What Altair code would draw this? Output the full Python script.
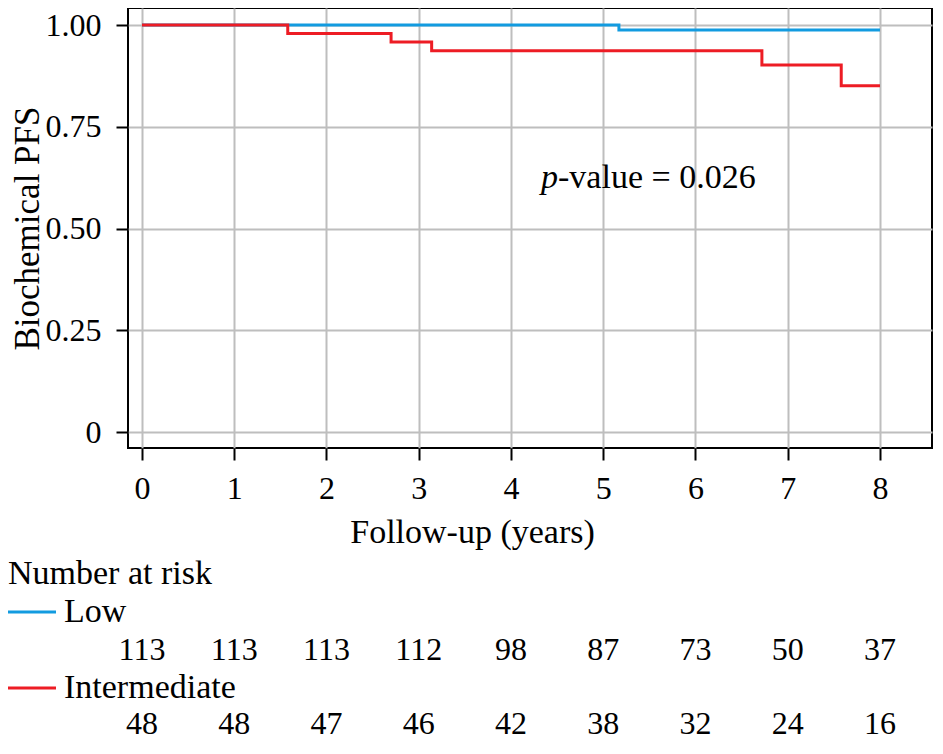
import altair as alt
import pandas as pd

# ---- data ----
groups = ["Low", "Intermediate"]
colors = ["#129be0", "#ed1c24"]

low_time = [0, 5.17, 8]
low_surv = [1.0, 0.988, 0.988]
int_time = [0, 1.58, 2.70, 3.14, 6.72, 7.58, 8]
int_surv = [1.0, 0.979, 0.958, 0.937, 0.902, 0.851, 0.851]

years = [0, 1, 2, 3, 4, 5, 6, 7, 8]
risk_low = [113, 113, 113, 112, 98, 87, 73, 50, 37]
risk_int = [48, 48, 47, 46, 42, 38, 32, 24, 16]

y_ticks = [0, 0.25, 0.5, 0.75, 1.0]
p_text = "-value = 0.026"
p_pos = (4.51, 0.6235)

FONT = "Liberation Serif"
W, H = 804, 440
SVG_H = 732
PAD_L, PAD_R, PAD_B = 120, 2, SVG_H - H
# row positions of the risk table (pixels below plot top)
ROWS = [566, 604, 642, 680, 716]

curves = pd.DataFrame({
    "group": [groups[0]] * len(low_time) + [groups[1]] * len(int_time),
    "time": low_time + int_time,
    "surv": low_surv + int_surv,
})
risk = pd.DataFrame({"time": years, "low": risk_low, "inter": risk_int})
ptxt = pd.DataFrame({"time": [p_pos[0]], "surv": [p_pos[1]]})

x_enc = alt.X(
    "time:Q",
    scale=alt.Scale(domain=[-0.1518, 8.564], nice=False, zero=False),
    axis=alt.Axis(values=years, title="Follow-up (years)", format="d",
                  grid=True, labelPadding=13, titleX=344, titleY=84,
                  titleBaseline="middle", titleAlign="center"),
)
y_scale = alt.Scale(domain=[-0.03931, 1.04177], nice=False, zero=False)
y_enc = alt.Y(
    "surv:Q",
    scale=y_scale,
    axis=alt.Axis(values=y_ticks, title="Biochemical PFS", grid=True,
                  labelExpr="datum.value == 0 ? '0' : format(datum.value, '.2f')",
                  labelPadding=15, titlePadding=0, titleFontSize=35),
)

lines = alt.Chart(curves).mark_line(interpolate="step-after", strokeWidth=3).encode(
    x=x_enc, y=y_enc,
    color=alt.Color("group:N", scale=alt.Scale(domain=groups, range=colors), legend=None),
    detail="group:N",
)

p_italic = alt.Chart(ptxt).mark_text(text="p", font=FONT, fontSize=34, fontStyle="italic",
                                     align="right", baseline="middle", color="black").encode(
    x=x_enc, y=y_enc)
p_rest = alt.Chart(ptxt).mark_text(text=p_text, font=FONT, fontSize=34,
                                   align="left", baseline="middle", color="black").encode(
    x=x_enc, y=y_enc)

def label(txt, x, row):
    return alt.Chart(ptxt).mark_text(text=txt, font=FONT, fontSize=34, align="left",
                                     baseline="middle", color="black").encode(
        x=alt.value(x), y=alt.value(ROWS[row]))

def seg(color, row):
    return alt.Chart(ptxt).mark_rule(color=color, strokeWidth=3).encode(
        x=alt.value(-120), x2=alt.value(-72), y=alt.value(ROWS[row]))

risk_low_txt = alt.Chart(risk).mark_text(font=FONT, fontSize=32, align="center",
                                         baseline="middle", color="black").encode(
    x=x_enc, y=alt.value(ROWS[2]), text="low:Q")
risk_int_txt = alt.Chart(risk).mark_text(font=FONT, fontSize=32, align="center",
                                         baseline="middle", color="black").encode(
    x=x_enc, y=alt.value(ROWS[4]), text="inter:Q")

chart = alt.layer(
    lines, p_italic, p_rest,
    label("Number at risk", -120, 0),
    seg(colors[0], 1), label(groups[0], -64, 1),
    risk_low_txt,
    seg(colors[1], 3), label(groups[1], -64, 3),
    risk_int_txt,
).properties(
    width=W, height=H,
    padding={"left": PAD_L, "top": 0, "right": PAD_R, "bottom": PAD_B},
    autosize=alt.AutoSizeParams(type="none"),
).configure_view(
    stroke="black", strokeWidth=2
).configure_axis(
    domain=False, tickColor="black", tickWidth=2, tickSize=12,
    gridColor="#bebebe", gridWidth=2,
    labelFont=FONT, labelFontSize=32, labelColor="black",
    titleFont=FONT, titleFontSize=34, titleFontWeight="normal", titleColor="black",
)

chart.save("out.html", embed_options={"renderer": "svg", "actions": False})
